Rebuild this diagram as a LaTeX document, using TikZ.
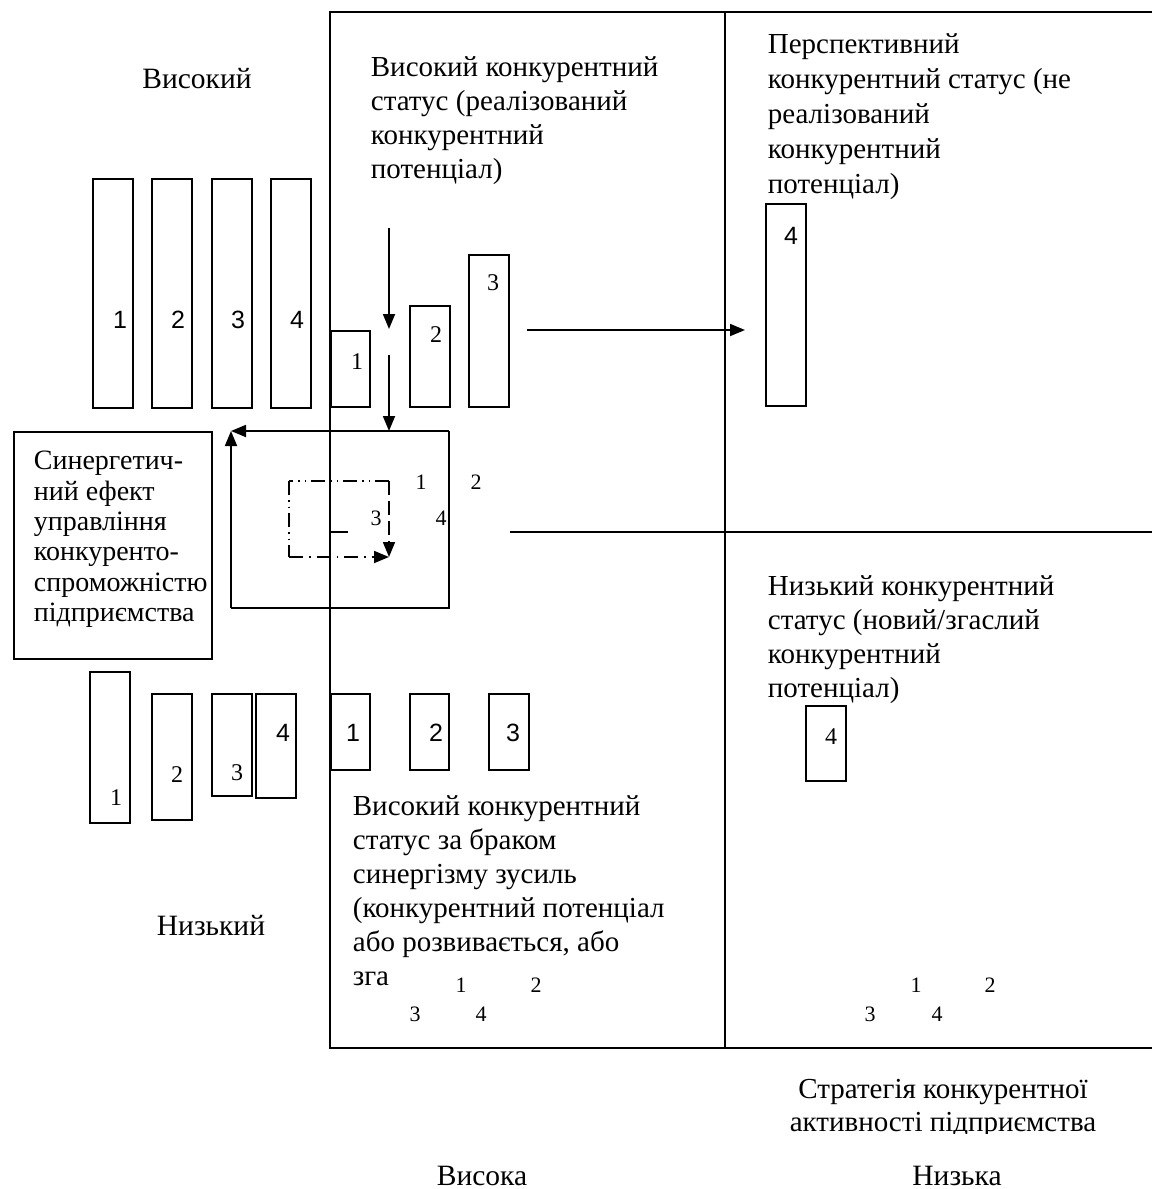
\documentclass[tikz,border=0pt]{standalone}
\usepackage{fontspec}
\setmainfont{Liberation Serif}
\newfontfamily\numsans{Liberation Sans}
\usetikzlibrary{arrows.meta}

\begin{document}
\begin{tikzpicture}[x=1pt,y=-1pt,line width=1.8pt,
  bar/.style={draw,rectangle,inner sep=0pt,anchor=north west},
  txt/.style={inner sep=0pt,anchor=north west,align=left},
  axis/.style={inner sep=0pt,anchor=base,font=\fontsize{29.5}{34}\selectfont},
  nsans/.style={inner sep=0pt,font=\numsans\fontsize{25}{25}\selectfont},
  nserif/.style={inner sep=0pt,font=\fontsize{24}{24}\selectfont},
  nsmall/.style={inner sep=0pt,font=\fontsize{22}{22}\selectfont},
  arr/.style={-{Triangle[length=15pt,width=12pt]}},
  ddot/.style={dash pattern=on 14pt off 5pt on 1.5pt off 5pt on 1.5pt off 5pt},
  dsingle/.style={dash pattern=on 14pt off 6pt on 1.5pt off 6pt},
  dlong/.style={dash pattern=on 14pt off 6pt}]
\useasboundingbox (0,0) rectangle (1152,1189);

% ---- quadrant frame ----
\coordinate (fTL) at (330,12);
\coordinate (fTM) at (725,12);
\coordinate (fTR) at (1152,12);
\coordinate (fBL) at (330,1048);
\coordinate (fBM) at (725,1048);
\coordinate (fBR) at (1152,1048);
\coordinate (mL) at (510,532);
\coordinate (mR) at (1152,532);
\coordinate (sL) at (330,532);
\coordinate (sR) at (348,532);
\draw (fTR) -- (fTL) -- (fBL) -- (fBR);
\draw (fTM) -- (fBM);
\draw (mL) -- (mR);
\draw (sL) -- (sR);

% ---- axis labels ----
\node[axis] (hi) at (197,88) {Високий};
\node[axis] (lo) at (211,935) {Низький};
\node[axis] (ahi) at (482,1185) {Висока};
\node[axis] (alo) at (957,1185) {Низька};
\begin{scope}
\clip (700,1060) rectangle (1152,1133);
\node[txt,anchor=north,align=center,font=\fontsize{29}{33}\selectfont] (strat) at (943,1074) {\strut Стратегія конкурентної\\активності підприємства};
\end{scope}

% ---- quadrant captions ----
\node[txt,font=\fontsize{29}{34}\selectfont] (q1) at (370,52.2) {\strut Високий конкурентний\\статус (реалізований\\конкурентний\\потенціал)};
\node[txt,font=\fontsize{29}{35}\selectfont] (q2) at (767,28.5) {\strut Перспективний\\конкурентний статус (не\\реалізований\\конкурентний\\потенціал)};
\node[txt,font=\fontsize{29}{34}\selectfont] (q3) at (767,571.2) {\strut Низький конкурентний\\статус (новий/згаслий\\конкурентний\\потенціал)};
\node[txt,font=\fontsize{29}{34}\selectfont] (q4) at (352,791.2) {\strut Високий конкурентний\\статус за браком\\синергізму зусиль\\(конкурентний потенціал\\або розвивається, або\\зга};

% ---- synergy box ----
\node[draw,rectangle,inner sep=0pt,anchor=north west,minimum width=198,minimum height=227] (syn) at (13,431) {};
\node[txt,font=\fontsize{28}{30.3}\selectfont] (syntxt) at (33,447.8) {\strut Синергетич-\\ний ефект\\управління\\конкуренто-\\спроможністю\\підприємства};

% ---- upper bars ----
\node[bar,minimum width=40,minimum height=229] (u1) at (92,178) {};
\node[bar,minimum width=40,minimum height=229] (u2) at (151,178) {};
\node[bar,minimum width=40,minimum height=229] (u3) at (211,178) {};
\node[bar,minimum width=40,minimum height=229] (u4) at (270,178) {};
\node[nsans] (u1n) at (120,320) {1};
\node[nsans] (u2n) at (178,320) {2};
\node[nsans] (u3n) at (238,320) {3};
\node[nsans] (u4n) at (297,320) {4};

\node[bar,minimum width=39,minimum height=76] (r1) at (330,330) {};
\node[bar,minimum width=40,minimum height=101] (r2) at (409,305) {};
\node[bar,minimum width=40,minimum height=152] (r3) at (468,254) {};
\node[nserif] (r1n) at (357,362) {1};
\node[nserif] (r2n) at (436,335) {2};
\node[nserif] (r3n) at (493,283) {3};

\node[bar,minimum width=40,minimum height=202] (p4) at (765,203) {};
\node[nsans] (p4n) at (791,236) {4};

% ---- lower bars ----
\node[bar,minimum width=40,minimum height=151] (l1) at (89,671) {};
\node[bar,minimum width=40,minimum height=126] (l2) at (151,693) {};
\node[bar,minimum width=40,minimum height=102] (l3) at (211,693) {};
\node[bar,minimum width=40,minimum height=104] (l4) at (255,693) {};
\node[nserif] (l1n) at (116,798) {1};
\node[nserif] (l2n) at (177,775) {2};
\node[nserif] (l3n) at (237,773) {3};
\node[nsans] (l4n) at (283,733) {4};

\node[bar,minimum width=39,minimum height=76] (m1) at (330,693) {};
\node[bar,minimum width=39,minimum height=76] (m2) at (409,693) {};
\node[bar,minimum width=40,minimum height=76] (m3) at (488,693) {};
\node[nsans] (m1n) at (353,733) {1};
\node[nsans] (m2n) at (436,733) {2};
\node[nsans] (m3n) at (513,733) {3};

\node[bar,minimum width=40,minimum height=75] (n4) at (805,705) {};
\node[nserif] (n4n) at (831,737) {4};

% ---- small index numbers ----
\node[nsmall] (c1) at (421,482) {1};
\node[nsmall] (c2) at (476,482) {2};
\node[nsmall] (c3) at (376,518) {3};
\node[nsmall] (c4) at (441,518) {4};
\node[nsmall] (b1) at (461,985) {1};
\node[nsmall] (b2) at (536,985) {2};
\node[nsmall] (b3) at (415,1014) {3};
\node[nsmall] (b4) at (481,1014) {4};
\node[nsmall] (e1) at (916,985) {1};
\node[nsmall] (e2) at (990,985) {2};
\node[nsmall] (e3) at (870,1014) {3};
\node[nsmall] (e4) at (937,1014) {4};

% ---- synergy loop square ----
\coordinate (sqTL) at (231,431);
\coordinate (sqTR) at (449,431);
\coordinate (sqBR) at (449,608);
\coordinate (sqBL) at (231,608);
\draw (sqTR) -- (sqBR) -- (sqBL);
\draw[arr] (sqTR) -- (sqTL);
\draw[arr] (sqBL) -- (sqTL);

% ---- inner dash-dotted cycle ----
\coordinate (iTL) at (289,481);
\coordinate (iTR) at (389,481);
\coordinate (iBL) at (289,557);
\coordinate (iBR) at (389,557);
\draw[ddot] (iTR) -- (iTL);
\draw[ddot] (iTL) -- (iBL);
\draw[dsingle,arr] (iBL) -- (iBR);
\draw[dlong,arr] (iTR) -- (iBR);

% ---- downward and rightward arrows ----
\coordinate (d1s) at (389,228);
\coordinate (d1e) at (389,329);
\coordinate (d2s) at (389,355);
\coordinate (d2e) at (389,431);
\draw[arr] (d1s) -- (d1e);
\draw[arr] (d2s) -- (d2e);
\coordinate (hs) at (527,330);
\coordinate (he) at (745,330);
\draw[arr] (hs) -- (he);
\end{tikzpicture}
\end{document}
